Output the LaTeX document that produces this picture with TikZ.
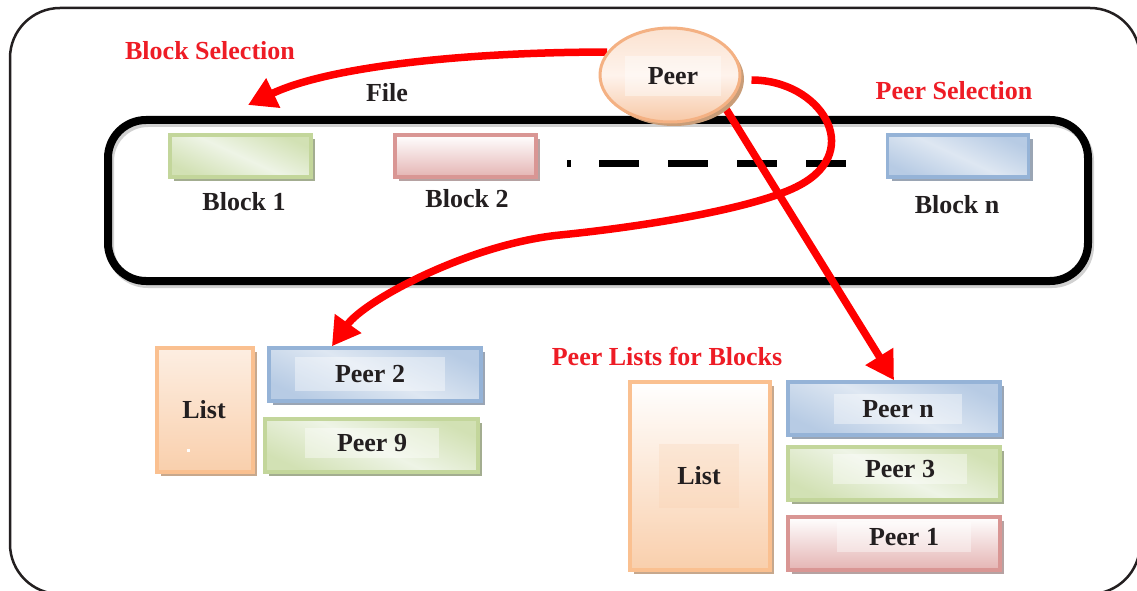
\documentclass[tikz,border=0pt]{standalone}
\usepackage{fontspec}
\setmainfont{Liberation Serif}
\usetikzlibrary{shapes.geometric,shadows,arrows.meta,calc}

\definecolor{ink}{HTML}{231F20}
\definecolor{redtxt}{HTML}{EE1C25}
\definecolor{arrowred}{HTML}{FF0000}
\definecolor{grnEdge}{HTML}{C3D69B}
\definecolor{grnDark}{HTML}{D2E1B4}
\definecolor{grnLight}{HTML}{EEF4E6}
\definecolor{grnShadow}{HTML}{A3AD90}
\definecolor{pnkEdge}{HTML}{D99694}
\definecolor{pnkDark}{HTML}{E4B4B3}
\definecolor{pnkShadow}{HTML}{B6A2A2}
\definecolor{bluEdge}{HTML}{95B3D7}
\definecolor{bluDark}{HTML}{B7CBE4}
\definecolor{bluLight}{HTML}{DEE7F2}
\definecolor{bluShadow}{HTML}{9AA5B4}
\definecolor{orgEdge}{HTML}{FAC090}
\definecolor{orgDark}{HTML}{F9CFAC}
\definecolor{orgShadow}{HTML}{C7A88D}
\definecolor{peachTop}{HTML}{FBE2D0}
\definecolor{peachMid}{HTML}{FEF3EC}
\definecolor{peachBot}{HTML}{F7C8A6}
\definecolor{peachEdge}{HTML}{F4B183}
\definecolor{peachShadow}{HTML}{C99D78}

\pgfdeclarelayer{back}
\pgfdeclarelayer{wires}
\pgfsetlayers{back,wires,main}

\tikzset{
  lbl/.style={font=\fontsize{26}{30}\selectfont\bfseries, text=ink, inner sep=0pt},
  redlbl/.style={lbl, text=redtxt},
  hl/.style={fill=white, fill opacity=0.4, text opacity=1, inner xsep=32pt, minimum height=30pt},
  tile/.style={rectangle, draw, line width=3.5pt, inner sep=0pt},
  gtile/.style={tile, draw=grnEdge, top color=grnDark, bottom color=grnDark, middle color=grnLight,
    shading angle=-25, drop shadow={shadow xshift=4pt, shadow yshift=-4pt, fill=grnShadow, opacity=1}},
  ptile/.style={tile, draw=pnkEdge, top color=white, bottom color=pnkDark,
    drop shadow={shadow xshift=4pt, shadow yshift=-4pt, fill=pnkShadow, opacity=1}},
  btile/.style={tile, draw=bluEdge, top color=bluDark, bottom color=bluDark, middle color=bluLight,
    shading angle=-25, drop shadow={shadow xshift=4pt, shadow yshift=-4pt, fill=bluShadow, opacity=1}},
  otile/.style={tile, draw=orgEdge, top color=white, bottom color=orgDark,
    drop shadow={shadow xshift=4pt, shadow yshift=-4pt, fill=orgShadow, opacity=1}},
  blockbox/.style={minimum width=141pt, minimum height=42pt},
  peerbox/.style={minimum width=212pt, minimum height=53pt},
  peerell/.style={ellipse, draw=peachEdge, line width=3pt, inner sep=0pt,
    minimum width=140pt, minimum height=94pt,
    top color=peachTop, bottom color=peachBot, middle color=peachMid,
    drop shadow={shadow xshift=4pt, shadow yshift=-4pt, fill=peachShadow, opacity=1}},
  redarrow/.style={draw=arrowred, line width=7.5pt,
    -{Triangle[length=28pt,width=31pt]}},
}

\begin{document}
\begin{tikzpicture}[x=1pt,y=-1pt]
\useasboundingbox (0,0) rectangle (1137,591);

% white page, the file container and the row of blocks
\begin{pgfonlayer}{back}
  \fill[white] (0,0) rectangle (1137,591);
  \draw[black!18, line width=8pt, rounded corners=38pt] (110,123) rectangle (1090,284);
  \draw[black, line width=8pt, rounded corners=38pt] (108,120) rectangle (1088,281);
  \draw[black, line width=7pt,
        dash pattern=on 4pt off 28pt on 40pt off 29pt on 40pt off 29pt on 40pt off 29pt on 40pt]
        (567,163) -- (849,163);
\end{pgfonlayer}

% outer frame
\draw[ink, line width=2.5pt, rounded corners=50pt] (10,8) rectangle (1140,594);

\node[gtile, blockbox] (b1) at (240.5,156) {};
\node[ptile, blockbox] (b2) at (465.5,156) {};
\node[btile, blockbox] (bn) at (958,156) {};
\node[lbl] (b1txt) at (244,202) {Block 1};
\node[lbl] (b2txt) at (467,199) {Block 2};
\node[lbl] (bntxt) at (957,204.5) {Block n};

% the peer
\node[peerell] (peer) at (670,75) {};
\node[lbl, hl, inner xsep=23pt, minimum height=40pt] (peertxt) at (673,76) {Peer};

% headings
\node[redlbl] (bsel) at (210,51) {Block Selection};
\node[lbl] (file) at (387,93) {File};
\node[redlbl] (psel) at (954,91) {Peer Selection};
\node[redlbl] (plists) at (667,356) {Peer Lists for Blocks};

% first peer list
\node[otile, minimum width=96pt, minimum height=124pt, top color=orgDark!35] (list1) at (205,410) {};
\fill[white] (186.5,448.5) rectangle ++(3,3);
\node[lbl] (list1txt) at (204,410) {List};
\node[btile, peerbox] (p2) at (375,374.5) {};
\node[gtile, peerbox, minimum width=213pt] (p9) at (371.5,445.5) {};
\node[lbl, hl, inner xsep=40pt, minimum height=34pt] (p2txt) at (370,374) {Peer 2};
\node[lbl, hl] (p9txt) at (372,443) {Peer 9};

% second peer list
\node[otile, minimum width=140pt, minimum height=188pt] (list2) at (700,476) {};
\node[lbl, fill=orgDark, fill opacity=0.25, text opacity=1, inner xsep=18pt, minimum height=64pt] (list2txt) at (699,476) {List};
\node[btile, peerbox] (pn) at (894,408.5) {};
\node[gtile, peerbox] (p3) at (894,473.5) {};
\node[ptile, peerbox] (p1) at (894,543.5) {};
\node[lbl, hl, inner xsep=28pt] (pntxt) at (898,409) {Peer n};
\node[lbl, hl] (p3txt) at (900,469) {Peer 3};
\node[lbl, hl] (p1txt) at (904,537) {Peer 1};

% selection arrows
\coordinate (seltip) at (248,105);
\begin{pgfonlayer}{wires}
  \draw[redarrow] (peer.160) .. controls (470,52) and (330,66) .. (seltip);
  \draw[redarrow] ([xshift=10pt,yshift=-5pt]peer.east)
      .. controls (820,80) and (865,150) .. (800,185)
      .. controls (760,207) and (650,226) .. (560,235)
      .. controls (470,244) and (365,300) .. ($(p2.north west)!0.3!(p2.north east)$);
  \draw[redarrow] (peer.-30) -- (pn.north);
\end{pgfonlayer}
\end{tikzpicture}
\end{document}
